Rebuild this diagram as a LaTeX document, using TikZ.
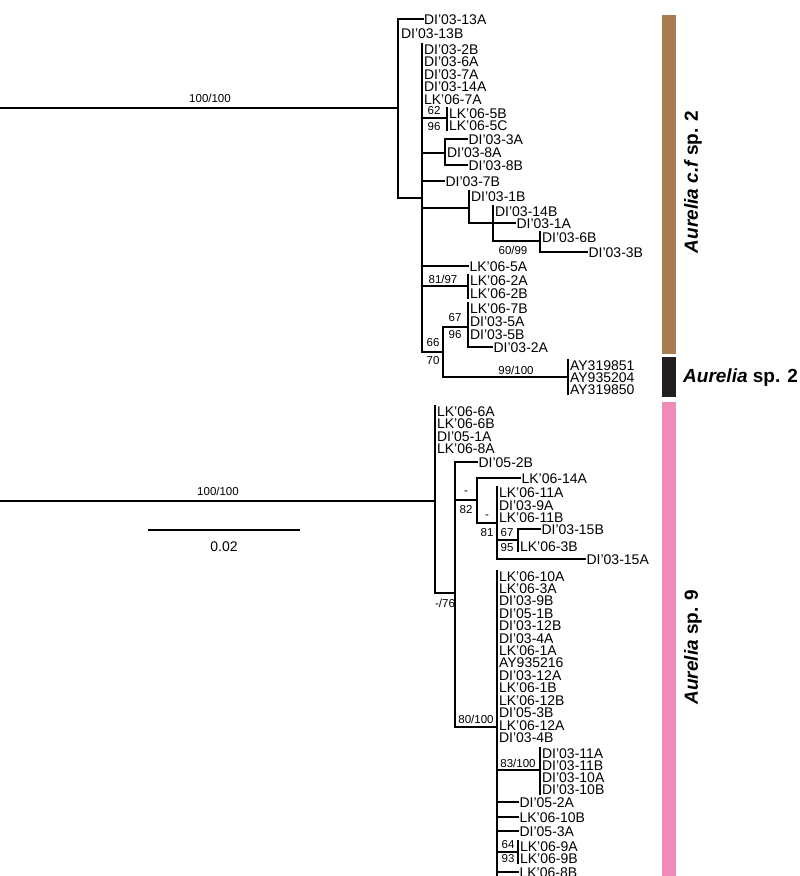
\documentclass[tikz,border=0pt]{standalone}
\usepackage{fontspec}
\setmainfont{Liberation Sans}
\definecolor{cfbrown}{RGB}{168,124,82}
\definecolor{sptwo}{RGB}{35,31,32}
\definecolor{spnine}{RGB}{240,139,184}

\begin{document}
\begin{tikzpicture}[x=1pt,y=-1pt,
  every node/.style={font=\fontsize{14}{14}\selectfont},
  tip/.style={anchor=west,inner sep=0.4pt,text height=10pt,text depth=0pt},
  supp/.style={font=\fontsize{11.5}{11.5}\selectfont,inner sep=0pt},
  br/.style={line width=2pt},
  clade/.style={font=\fontsize{19}{19}\selectfont\bfseries,inner sep=0pt},
]
\useasboundingbox (0,0) rectangle (800,876);

% Aurelia c.f. sp. 2 and sp. 2
\coordinate (rA) at (0,108);
\coordinate (nA) at (398,108);
\coordinate (nB) at (422,197.5);
\coordinate (n5B) at (447,118);
\coordinate (n3A) at (445,153);
\coordinate (n1B) at (469,208);
\coordinate (n14B) at (493,223);
\coordinate (n6B) at (540,241);
\coordinate (n2A) at (468,286);
\coordinate (n66) at (443,352);
\coordinate (n67) at (468,327);
\coordinate (nAY) at (568,377);

\node[tip] (t13A) at (423.5,19) {DI’03-13A};
\node[tip] (t13B) at (400.5,33) {DI’03-13B};
\foreach \lab [count=\i] in {DI’03-2B,DI’03-6A,DI’03-7A,DI’03-14A,LK’06-7A}
  \node[tip] (s\i) at (423.5,36.5+12.5*\i) {\lab};
\node[tip] (t5B) at (448.5,113) {LK’06-5B};
\node[tip] (t5C) at (448.5,125) {LK’06-5C};
\node[tip] (t3A) at (468,139) {DI’03-3A};
\node[tip] (t8A) at (446.5,152) {DI’03-8A};
\node[tip] (t8B) at (468,165) {DI’03-8B};
\node[tip] (t7B) at (445,181) {DI’03-7B};
\node[tip] (t1B) at (470.5,196) {DI’03-1B};
\node[tip] (t14B) at (494.5,211) {DI’03-14B};
\node[tip] (t1A) at (516,223) {DI’03-1A};
\node[tip] (t6B) at (541.5,237) {DI’03-6B};
\node[tip] (t3B) at (588,252) {DI’03-3B};
\node[tip] (t5A) at (469,266) {LK’06-5A};
\node[tip] (t2A) at (469.5,280) {LK’06-2A};
\node[tip] (t2B) at (469.5,293) {LK’06-2B};
\node[tip] (t7Bl) at (469.5,308) {LK’06-7B};
\node[tip] (t5Ad) at (469.5,321) {DI’03-5A};
\node[tip] (t5Bd) at (469.5,334) {DI’03-5B};
\node[tip] (t2Ad) at (493,347) {DI’03-2A};
\node[tip] (ay1) at (569.5,365) {AY319851};
\node[tip] (ay2) at (569.5,377) {AY935204};
\node[tip] (ay3) at (569.5,389) {AY319850};

\draw[br] (rA) -- (nA);
\draw[br] (t13A.west) -| (nA) |- (nB);
\draw[br] (s1.north -| nB) |- (n66);
\draw[br] (nB |- n5B) -- (n5B);
\draw[br] (t5B.north -| n5B) -- (t5C.south -| n5B);
\draw[br] (nB |- n3A) -- (n3A);
\draw[br] (t3A.west) -| (n3A) |- (t8B.west);
\draw[br] (nB |- t7B) -- (t7B.west);
\draw[br] (nB |- n1B) -- (n1B);
\draw[br] (t1B.north -| n1B) -- (n1B |- n14B) -- (n14B);
\draw[br] (n14B) -- (t1A.west);
\draw[br] (t14B.north -| n14B) |- (n6B);
\draw[br] (t6B.north -| n6B) |- (t3B.west);
\draw[br] (nB |- t5A) -- (t5A.west);
\draw[br] (nB |- n2A) -- (n2A);
\draw[br] (t2A.north -| n2A) -- (t2B.south -| n2A);
\draw[br] (n67) -| (n66) |- (nAY);
\draw[br] (t7Bl.north -| n67) |- (t2Ad.west);
\draw[br] (ay1.north -| nAY) -- (ay3.south -| nAY);

\node[supp] at (210,98) {100/100};
\node[supp] at (434,111) {62};
\node[supp] at (434,127) {96};
\node[supp] at (513,250) {60/99};
\node[supp] at (443,279) {81/97};
\node[supp] at (455,318) {67};
\node[supp] at (455,335) {96};
\node[supp] at (433,343) {66};
\node[supp] at (433,361) {70};
\node[supp] at (516,370) {99/100};

% Aurelia sp. 9
\coordinate (rB) at (0,501);
\coordinate (nC) at (435,501);
\coordinate (nD) at (455,593);
\coordinate (nE) at (477,500);
\coordinate (nF) at (497,523);
\coordinate (nG) at (518,540);
\coordinate (nH) at (497,727);
\coordinate (nI) at (540,770);
\coordinate (nJ) at (518,852);
\coordinate (cut) at (497,876);

\foreach \lab [count=\i] in {LK’06-6A,LK’06-6B,DI’05-1A,LK’06-8A}
  \node[tip] (b\i) at (436.5,398.5+12.5*\i) {\lab};
\node[tip] (t2Bf) at (478,462) {DI’05-2B};
\node[tip] (t14A) at (521,478) {LK’06-14A};
\node[tip] (t11A) at (498.5,492) {LK’06-11A};
\node[tip] (t9A) at (498.5,505) {DI’03-9A};
\node[tip] (t11B) at (498.5,517) {LK’06-11B};
\node[tip] (t15B) at (541,529) {DI’03-15B};
\node[tip] (t3Bl) at (519.5,546) {LK’06-3B};
\node[tip] (t15A) at (586,559) {DI’03-15A};
\foreach \lab [count=\i] in {LK’06-10A,LK’06-3A,DI’03-9B,DI’05-1B,DI’03-12B,DI’03-4A,LK’06-1A,AY935216,DI’03-12A,LK’06-1B,LK’06-12B,DI’05-3B,LK’06-12A,DI’03-4B}
  \node[tip] (m\i) at (498.5,563.6+12.42*\i) {\lab};
\foreach \lab [count=\i] in {DI’03-11A,DI’03-11B,DI’03-10A,DI’03-10B}
  \node[tip] (d\i) at (541.5,741+12*\i) {\lab};
\node[tip] (t2Af) at (519,802) {DI’05-2A};
\node[tip] (t10B) at (519,817) {LK’06-10B};
\node[tip] (t3Af) at (519,831) {DI’05-3A};
\node[tip] (t9Al) at (519.5,846) {LK’06-9A};
\node[tip] (t9Bl) at (519.5,858) {LK’06-9B};
\node[tip] (t8Bl) at (519,872) {LK’06-8B};

\draw[br] (rB) -- (nC);
\draw[br] (b1.north -| nC) |- (nD);
\draw[br] (t2Bf.west) -| (nD) |- (nH);
\draw[br] (nD |- nE) -- (nE);
\draw[br] (t14A.west) -| (nE) |- (nF);
\draw[br] (t11A.north -| nF) |- (t15A.west);
\draw[br] (nF |- nG) -- (nG);
\draw[br] (t15B.west) -| (nG) -- (t3Bl.south -| nG);
\draw[br] (m1.north -| nH) -- (cut);
\draw[br] (nH |- nI) -- (nI);
\draw[br] (d1.north -| nI) -- (d4.south -| nI);
\draw[br] (nH |- t2Af) -- (t2Af.west);
\draw[br] (nH |- t10B) -- (t10B.west);
\draw[br] (nH |- t3Af) -- (t3Af.west);
\draw[br] (nH |- nJ) -- (nJ);
\draw[br] (t9Al.north -| nJ) -- (t9Bl.south -| nJ);
\draw[br] (nH |- t8Bl) -- (t8Bl.west);

\node[supp] at (218,491) {100/100};
\node[supp] at (466,493) {-};
\node[supp] at (466,510) {82};
\node[supp] at (487,517) {-};
\node[supp] at (487,533) {81};
\node[supp] at (507,533) {67};
\node[supp] at (507,548) {95};
\node[supp] at (445,603) {-/76};
\node[supp] at (476,719) {80/100};
\node[supp] at (518,763) {83/100};
\node[supp] at (508,845) {64};
\node[supp] at (508,859) {93};

% scale bar
\coordinate (sbL) at (148,530);
\coordinate (sbR) at (300,530);
\draw[br] (sbL) -- (sbR) node[midway,yshift=-17pt] (sbl) {0.02};

% clade bars
\fill[cfbrown] (662,15) rectangle (676,354);
\fill[sptwo] (662,357) rectangle (676,397);
\fill[spnine] (662,402) rectangle (676,876);
\node[clade,rotate=90] (lcf) at (693,182) {\itshape Aurelia c.f \upshape sp. 2};
\node[clade,anchor=west] (ltwo) at (683,378) {\itshape Aurelia \upshape sp. 2};
\node[clade,rotate=90] (lnine) at (693,647) {\itshape Aurelia \upshape sp. 9};
\end{tikzpicture}
\end{document}
